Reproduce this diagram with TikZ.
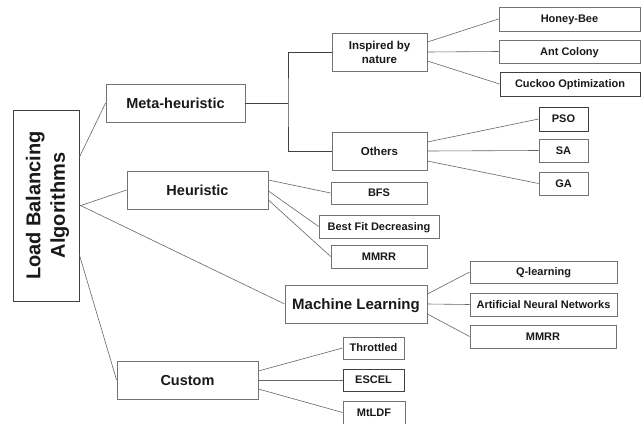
\documentclass[tikz,border=0pt]{standalone}
\usepackage{fontspec}
\setmainfont{Liberation Sans}
\begin{document}
\begin{tikzpicture}[x=1pt,y=-1pt,
  box/.style={draw=black!55, line width=0.8pt, rectangle, inner sep=1pt, text=black!90, text depth=0pt, font=\bfseries\fontsize{11}{13}\selectfont},
  midbox/.style={box, font=\bfseries\fontsize{14.5}{17}\selectfont},
  twoline/.style={draw=black!55, line width=0.8pt, rectangle, inner sep=1pt, text=black!90, align=center, font=\bfseries\fontsize{11.5}{14}\selectfont},
  rootbox/.style={draw=black!75, line width=0.9pt, rectangle, inner sep=0pt},
  conn/.style={draw=black!60, line width=0.6pt}
]
\useasboundingbox (0,0) rectangle (642,423);
\fill[white] (0,0) rectangle (642,423);

% root
\node[rootbox, minimum width=66pt, minimum height=191pt] (root) at (46,205.5) {};
\node[rotate=90, align=center, text=black!90, font=\bfseries\fontsize{20}{24.5}\selectfont] (roottext) at (47.5,205.5) {Load Balancing\\Algorithms};

% level 1
\node[midbox, minimum width=139pt, minimum height=38pt] (meta) at (175.5,103) {Meta-heuristic};
\node[midbox, minimum width=141pt, minimum height=38pt] (heur) at (197.5,190) {Heuristic};
\node[midbox, minimum width=142pt, minimum height=38pt, font=\bfseries\fontsize{15}{18}\selectfont] (ml) at (356,304) {Machine Learning};
\node[midbox, minimum width=141pt, minimum height=38pt] (custom) at (187.5,380) {Custom};

% level 2 under meta
\node[twoline, minimum width=95pt, minimum height=38pt] (insp) at (379.5,52) {Inspired by\\nature};
\node[box, minimum width=95pt, minimum height=38pt, font=\bfseries\fontsize{11.5}{14}\selectfont] (others) at (379.5,151) {Others};

% leaves
\node[box, minimum width=141pt, minimum height=24pt] (honey) at (569.5,19) {Honey-Bee};
\node[box, minimum width=141pt, minimum height=23pt] (ant) at (569.5,51.5) {Ant Colony};
\node[box, draw=black!75, minimum width=140pt, minimum height=24pt] (cuckoo) at (570,84) {Cuckoo Optimization};
\node[box, draw=black!75, minimum width=49pt, minimum height=24pt] (pso) at (563.5,119) {PSO};
\node[box, minimum width=49pt, minimum height=23pt] (sa) at (563.5,150.5) {SA};
\node[box, minimum width=49pt, minimum height=23pt] (ga) at (563.5,183.5) {GA};

\node[box, minimum width=96pt, minimum height=22pt] (bfs) at (379,193) {BFS};
\node[box, minimum width=120pt, minimum height=23pt] (bfd) at (379,226.5) {Best Fit Decreasing};
\node[box, minimum width=96pt, minimum height=23pt] (mmrra) at (379,256.5) {MMRR};

\node[box, minimum width=147pt, minimum height=22pt] (q) at (543.5,272) {Q-learning};
\node[box, minimum width=147pt, minimum height=23pt] (ann) at (543.5,304.5) {Artificial Neural Networks};
\node[box, minimum width=146pt, minimum height=23pt] (mmrrb) at (543,336.5) {MMRR};

\node[box, minimum width=61pt, minimum height=22pt] (thr) at (373.5,348) {Throttled};
\node[box, draw=black!75, minimum width=61pt, minimum height=22pt] (escel) at (373.5,380) {ESCEL};
\node[box, minimum width=62pt, minimum height=23pt] (mtldf) at (374,412.5) {MtLDF};

% root connectors
\draw[conn] ([yshift=48.5pt]root.east) -- (meta.west);
\draw[conn] ([yshift=-0.5pt]root.east) -- (heur.west);
\draw[conn] ([yshift=0.5pt]root.east) -- (ml.west);
\draw[conn] ([yshift=-49.5pt]root.east) -- (custom.west);

% meta-heuristic bracket
\coordinate (spine) at (288,103);
\draw[conn, line width=0.8pt, draw=black!75] (meta.east) -- (spine);
\draw[conn, line width=0.8pt, draw=black!75] (insp.west) -| (spine) |- (others.west);

% inspired
\draw[conn] ([yshift=10pt]insp.east) -- (honey.west);
\draw[conn] (insp.east) -- (ant.west);
\draw[conn] ([yshift=-9pt]insp.east) -- (cuckoo.west);

% others
\draw[conn] ([yshift=9pt]others.east) -- (pso.west);
\draw[conn] (others.east) -- (sa.west);
\draw[conn] ([yshift=-10pt]others.east) -- (ga.west);

% heuristic
\draw[conn] ([yshift=10pt]heur.east) -- (bfs.west);
\draw[conn] ([yshift=-1pt]heur.east) -- (bfd.west);
\draw[conn] ([yshift=-10pt]heur.east) -- (mmrra.west);

% machine learning
\draw[conn] ([yshift=10pt]ml.east) -- (q.west);
\draw[conn] (ml.east) -- (ann.west);
\draw[conn] ([yshift=-10pt]ml.east) -- (mmrrb.west);

% custom
\draw[conn] ([yshift=9pt]custom.east) -- (thr.west);
\draw[conn] (custom.east) -- (escel.west);
\draw[conn] ([yshift=-9pt]custom.east) -- (mtldf.west);
\end{tikzpicture}
\end{document}
